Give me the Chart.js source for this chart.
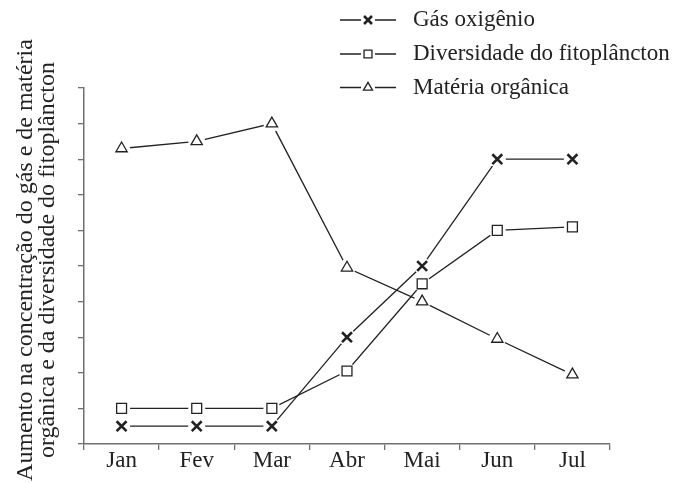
<!DOCTYPE html>
<html>
<head>
<meta charset="utf-8">
<script src="https://cdn.jsdelivr.net/npm/chart.js@4.4.1/dist/chart.umd.min.js"></script>
<style>
  html, body { margin: 0; padding: 0; background: #fff; }
  #wrap { width: 683px; height: 483px; }
</style>
</head>
<body>
<div id="wrap"><canvas id="myChart" width="683" height="483"></canvas></div>
<script>
// data (y axis has no numbers, 10 tick steps)
var meses = ['Jan', 'Fev', 'Mar', 'Abr', 'Mai', 'Jun', 'Jul'];
var gasOxigenio = [0.5, 0.5, 0.5, 3, 5, 8, 8];
var diversidade = [1, 1, 1, 2.05, 4.5, 6, 6.1];
var materiaOrganica = [8.3, 8.5, 9, 4.95, 4, 2.95, 1.95];
var nomes = ['Gás oxigênio', 'Diversidade do fitoplâncton', 'Matéria orgânica'];
var tituloY = ['Aumento na concentração do gás e de matéria', 'orgânica e da diversidade do fitoplâncton'];

var fonte = '"Liberation Serif", "Times New Roman", serif';
var tinta = '#222';
var eixo = '#707070';

var estilos = [
  { pointStyle: 'crossRot', radius: 7, borderWidth: 2.6 },
  { pointStyle: 'rect', radius: 7, borderWidth: 1.3 },
  { pointStyle: 'triangle', radius: 6.5, borderWidth: 1.3 }
];
var series = [gasOxigenio, diversidade, materiaOrganica];

var datasets = [];
for (var i = 0; i < series.length; i++) {
  datasets.push({
    label: nomes[i],
    data: series[i],
    borderColor: tinta,
    borderWidth: 1.3,
    tension: 0,
    fill: false,
    pointStyle: estilos[i].pointStyle,
    pointRadius: estilos[i].radius,
    pointBorderWidth: estilos[i].borderWidth,
    pointBorderColor: tinta,
    pointBackgroundColor: '#fff'
  });
}

// white halo behind each marker so lines stop short of it
var gapPlugin = {
  id: 'gap',
  afterDatasetsDraw: function (chart) {
    var ctx = chart.ctx;
    var metas = chart.getSortedVisibleDatasetMetas();
    ctx.save();
    ctx.fillStyle = '#fff';
    metas.forEach(function (meta) {
      meta.data.forEach(function (pt) {
        ctx.beginPath();
        ctx.arc(pt.x, pt.y, 8.5, 0, Math.PI * 2);
        ctx.fill();
      });
    });
    ctx.restore();
    metas.forEach(function (meta) {
      meta.data.forEach(function (pt) { pt.draw(ctx, chart.chartArea); });
    });
  }
};

// stacked legend at the top right
var legendaPlugin = {
  id: 'legenda',
  afterDraw: function (chart) {
    var ctx = chart.ctx;
    var ys = [20, 54, 87.5];
    ctx.save();
    for (var i = 0; i < nomes.length; i++) {
      var y = ys[i];
      ctx.strokeStyle = tinta;
      ctx.lineWidth = 1.3;
      ctx.beginPath();
      ctx.moveTo(340, y); ctx.lineTo(361, y);
      ctx.moveTo(375, y); ctx.lineTo(396, y);
      ctx.stroke();
      ctx.fillStyle = '#fff';
      ctx.strokeStyle = tinta;
      ctx.lineWidth = estilos[i].borderWidth;
      Chart.helpers.drawPoint(ctx, {
        pointStyle: estilos[i].pointStyle,
        radius: estilos[i].radius * 0.8,
        rotation: 0,
        borderWidth: estilos[i].borderWidth
      }, 368, y);
      ctx.fillStyle = tinta;
      ctx.font = '23px ' + fonte;
      ctx.textBaseline = 'middle';
      ctx.textAlign = 'left';
      ctx.fillText(nomes[i], 413, y);
    }
    ctx.restore();
  }
};

// two leading no-break spaces nudge the rotated title up a little
var recuo = '\u00a0\u00a0';

var ctx = document.getElementById('myChart').getContext('2d');
var myChart = new Chart(ctx, {
  type: 'line',
  data: { labels: meses, datasets: datasets },
  options: {
    responsive: false,
    animation: false,
    devicePixelRatio: 1,
    layout: { padding: { top: 88, right: 73, bottom: 0, left: 0 } },
    plugins: { legend: { display: false }, tooltip: { enabled: false } },
    scales: {
      x: {
        type: 'category',
        offset: true,
        grid: { offset: true, drawOnChartArea: false, drawTicks: true, tickLength: 6, color: eixo, lineWidth: 1.3 },
        border: { display: true, color: eixo, width: 1.5 },
        ticks: { color: tinta, font: { family: fonte, size: 23 }, padding: -3, maxRotation: 0, autoSkip: false },
        afterFit: function (s) { s.height = 39; }
      },
      y: {
        min: 0,
        max: 10,
        ticks: { display: false, stepSize: 1 },
        grid: { drawOnChartArea: false, drawTicks: true, tickLength: 6, color: eixo, lineWidth: 1.3 },
        border: { display: true, color: eixo, width: 1.5 },
        title: {
          display: true,
          text: tituloY.map(function (t) { return recuo + t; }),
          color: tinta,
          font: { family: fonte, size: 24, lineHeight: 0.95 },
          padding: { top: 14, bottom: 0 }
        },
        afterFit: function (s) { s.width = 84; }
      }
    }
  },
  plugins: [gapPlugin, legendaPlugin]
});
</script>
</body>
</html>
